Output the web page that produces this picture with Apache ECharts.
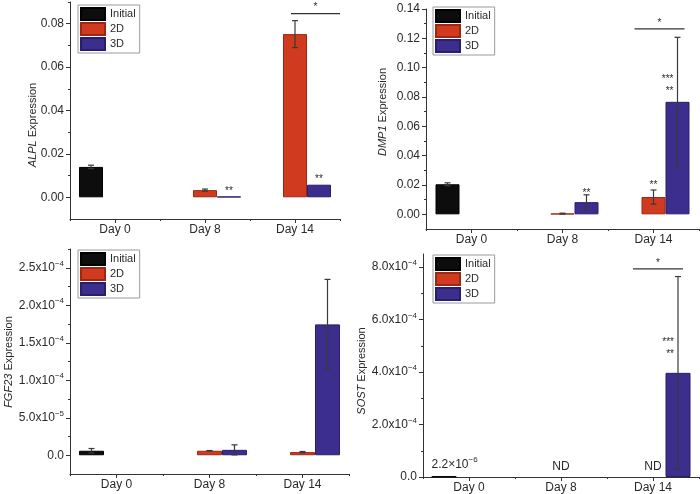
<!DOCTYPE html>
<html><head><meta charset="utf-8">
<script src="https://cdn.jsdelivr.net/npm/echarts@6/dist/echarts.min.js"></script>
<style>html,body{margin:0;padding:0;background:#fff}#c{width:700px;height:494px}</style>
</head><body><div id="c"></div>
<script>
// ---------------- data ----------------
const categories = ['Day 0', 'Day 8', 'Day 14'];
const groups = ['Initial', '2D', '3D'];

// ALPL
const alplInitial = [0.0140, null, null];
const alplInitialErr = [0.0008, null, null];
const alpl2D = [null, 0.0033, 0.0752];
const alpl2DErr = [null, 0.0005, 0.0062];
const alpl3D = [null, 0.0003, 0.0058];
const alpl3DErr = [null, null, null];
const alplTicks = [0, 0.02, 0.04, 0.06, 0.08];
const alplStars = [['Day 8', '3D', 0.0003, '**'], ['Day 14', '3D', 0.0058, '**']];
const alplSig = [['Day 14', 0.0846, '*']];

// DMP1
const dmp1Initial = [0.0205, null, null];
const dmp1InitialErr = [0.0010, null, null];
const dmp12D = [null, 0.0005, 0.0118];
const dmp12DErr = [null, 0.0003, 0.0048];
const dmp13D = [null, 0.0083, 0.0767];
const dmp13DErr = [null, 0.0050, 0.0440];
const dmp1Ticks = [0, 0.02, 0.04, 0.06, 0.08, 0.10, 0.12, 0.14];
const dmp1Stars = [['Day 8', '3D', 0.0111, '**'], ['Day 14', '2D', 0.0164, '**'],
                   ['Day 14', '3D', 0.0888, '***'], ['Day 14', '3D', 0.0806, '**']];
const dmp1Sig = [['Day 14', 0.1265, '*']];

// FGF23
const fgf23Initial = [6.0e-6, null, null];
const fgf23InitialErr = [3.0e-6, null, null];
const fgf232D = [null, 6.0e-6, 4.2e-6];
const fgf232DErr = [null, 0.3e-6, 0.8e-6];
const fgf233D = [null, 7.2e-6, 1.745e-4];
const fgf233DErr = [null, 6.7e-6, 6.0e-5];
const fgf23Ticks = [0, 5e-5, 1e-4, 1.5e-4, 2e-4, 2.5e-4];
const fgf23Stars = [];
const fgf23Sig = [];

// SOST
const sostInitial = [2.2e-6, null, null];
const sostInitialErr = [null, null, null];
const sost2D = [null, null, null];
const sost2DErr = [null, null, null];
const sost3D = [null, null, 3.97e-4];
const sost3DErr = [null, null, 3.67e-4];
const sostTicks = [0, 2e-4, 4e-4, 6e-4, 8e-4];
const sostStars = [['Day 14', '3D', 4.94e-4, '***'], ['Day 14', '3D', 4.48e-4, '**'],
                   ['Day 0', 'Initial', 0.18e-4, '2.2×10^−6'], ['Day 8', '2D', 0.18e-4, 'ND'],
                   ['Day 14', '2D', 0.18e-4, 'ND']];
const sostSig = [['Day 14', 7.93e-4, '*']];

// ---------------- layout / style ----------------
const FONT = "'Liberation Sans', Arial, Helvetica, sans-serif";
const TXT = '#2a2a2a';
const fills = { 'Initial': '#0d0d0d', '2D': '#d03a1f', '3D': '#3b2e8c' };
const borders = { 'Initial': '#000000', '2D': '#9c2812', '3D': '#281e6c' };
const slotOf = { 'Initial': -1, '2D': 0, '3D': 1 };

function fixedFmt(v) { return Math.abs(v) < 1e-12 ? '0.00' : v.toFixed(2); }
function sciFmt(v) {
  if (Math.abs(v) < 1e-15) return '{b|0.0}';
  const e = Math.floor(Math.log10(v) + 1e-9);
  const m = v / Math.pow(10, e);
  return '{b|' + m.toFixed(1) + 'x10}{s|−' + Math.abs(e) + '}';
}
const sciRich = {
  b: { fontSize: 12, color: TXT, fontFamily: FONT, lineHeight: 16 },
  s: { fontSize: 8, color: TXT, fontFamily: FONT, lineHeight: 8, verticalAlign: 'top' }
};

const panels = [
  { gene: 'ALPL', grid: { left: 70, top: 2, width: 270, height: 217 }, min: -0.01, max: 0.09,
    ticks: alplTicks, fmt: fixedFmt, rich: null, barW: 24, legend: { left: 78, top: 5 },
    nameAt: [33, 125],
    vals: [alplInitial, alpl2D, alpl3D], errs: [alplInitialErr, alpl2DErr, alpl3DErr],
    stars: alplStars, starAlign: ['center', 'center'], sig: alplSig, sigSpan: [-4, 45] },
  { gene: 'DMP1', grid: { left: 426, top: 9, width: 273, height: 220 }, min: -0.01, max: 0.14,
    ticks: dmp1Ticks, fmt: fixedFmt, rich: null, barW: 24, legend: { left: 433, top: 7 },
    nameAt: [383, 112],
    vals: [dmp1Initial, dmp12D, dmp13D], errs: [dmp1InitialErr, dmp12DErr, dmp13DErr],
    stars: dmp1Stars, starAlign: ['center', 'center', 'right', 'right'], sig: dmp1Sig, sigSpan: [-19, 31] },
  { gene: 'FGF23', grid: { left: 70, top: 249, width: 279, height: 225 }, min: -2.5e-5, max: 2.75e-4,
    ticks: fgf23Ticks, fmt: sciFmt, rich: sciRich, barW: 25, legend: { left: 78, top: 250 },
    nameAt: [9, 362],
    vals: [fgf23Initial, fgf232D, fgf233D], errs: [fgf23InitialErr, fgf232DErr, fgf233DErr],
    stars: fgf23Stars, starAlign: [], sig: fgf23Sig, sigSpan: [-20, 30] },
  { gene: 'SOST', grid: { left: 423, top: 254, width: 276, height: 223 }, min: 0, max: 8.5e-4,
    ticks: sostTicks, fmt: sciFmt, rich: sciRich, barW: 25, legend: { left: 433, top: 255 },
    nameAt: [362, 371],
    vals: [sostInitial, sost2D, sost3D], errs: [sostInitialErr, sost2DErr, sost3DErr],
    stars: sostStars, starAlign: ['right', 'right', 'left', 'center', 'center'], sig: sostSig, sigSpan: [-20, 30] }
];

function minorsOf(ticks, min, max) {
  const out = [];
  const step = ticks[1] - ticks[0];
  for (let i = 0; i < ticks.length; i++) {
    const m = ticks[i] + step / 2;
    if (m <= max + 1e-12) out.push(m);
  }
  return out;
}

function richText(t) {
  const k = t.indexOf('^');
  if (k < 0) return null;
  return '{b|' + t.slice(0, k) + '}{s|' + t.slice(k + 1) + '}';
}

const option = { animation: false, grid: [], xAxis: [], yAxis: [], legend: [], series: [], graphic: [] };

panels.forEach((p, k) => {
  option.grid.push(Object.assign({ containLabel: false, outerBoundsMode: 'none' }, p.grid));
  const axLine = { lineStyle: { color: '#333', width: 1 } };
  option.xAxis.push({
    type: 'category', gridIndex: k, data: categories, position: 'bottom',
    axisLine: { show: true, onZero: false, lineStyle: { color: '#333', width: 1 } },
    axisTick: { show: true, alignWithLabel: true, length: 4, lineStyle: { color: '#333' } },
    axisLabel: { color: TXT, fontSize: 12, fontFamily: FONT, margin: 5 },
    splitLine: { show: false }
  });
  option.xAxis.push({
    type: 'category', gridIndex: k, data: categories, position: 'bottom', offset: 0,
    axisLine: { show: false, onZero: false },
    axisTick: { show: true, length: 2, lineStyle: { color: '#333' } },
    axisLabel: { show: false }, splitLine: { show: false }
  });
  const lab = { customValues: p.ticks, margin: 6, color: TXT, fontSize: 12, fontFamily: FONT, formatter: p.fmt };
  if (p.rich) lab.rich = p.rich;
  option.yAxis.push({
    type: 'value', gridIndex: k, min: p.min, max: p.max, position: 'left',
    axisLine: Object.assign({ show: true, onZero: false }, axLine),
    axisTick: { show: true, length: 4, customValues: p.ticks, lineStyle: { color: '#333' } },
    axisLabel: lab, splitLine: { show: false }
  });
  option.yAxis.push({
    type: 'value', gridIndex: k, min: p.min, max: p.max, position: 'left', offset: 0,
    axisLine: { show: false, onZero: false },
    axisTick: { show: true, length: 2, customValues: minorsOf(p.ticks, p.min, p.max), lineStyle: { color: '#333' } },
    axisLabel: { show: false }, splitLine: { show: false }
  });
  const xi = 2 * k, yi = 2 * k;

  groups.forEach((g, gi) => {
    option.series.push({
      type: 'bar', name: g, xAxisIndex: xi, yAxisIndex: yi, data: p.vals[gi],
      barWidth: p.barW, barGap: '0%',
      itemStyle: { color: fills[g], borderColor: borders[g], borderWidth: 1 },
      emphasis: { disabled: true }, z: 2
    });
  });

  // error bars
  const errData = [];
  groups.forEach((g, gi) => {
    p.errs[gi].forEach((e, ci) => {
      if (e != null && p.vals[gi][ci] != null) errData.push([ci, p.vals[gi][ci], e, slotOf[g]]);
    });
  });
  option.series.push({
    type: 'custom', xAxisIndex: xi, yAxisIndex: yi, data: errData, silent: true, z: 3, clip: false,
    renderItem: (params, api) => {
      const c = api.value(0), v = api.value(1), e = api.value(2), s = api.value(3);
      const x = api.coord([c, v])[0] + s * p.barW;
      const yT = api.coord([c, v + e])[1], yB = api.coord([c, v - e])[1];
      const st = { stroke: '#3a3a3a', lineWidth: 1.2 };
      return { type: 'group', children: [
        { type: 'line', shape: { x1: x, y1: yT, x2: x, y2: yB }, style: st },
        { type: 'line', shape: { x1: x - 3, y1: yT, x2: x + 3, y2: yT }, style: st },
        { type: 'line', shape: { x1: x - 3, y1: yB, x2: x + 3, y2: yB }, style: st }
      ] };
    }
  });

  // annotations
  const anns = [];
  p.stars.forEach((s, i) => anns.push({ kind: 'txt', cat: categories.indexOf(s[0]), slot: slotOf[s[1]], v: s[2], text: s[3], align: p.starAlign[i] || 'center' }));
  p.sig.forEach(s => anns.push({ kind: 'sig', cat: categories.indexOf(s[0]), v: s[1], text: s[2] }));
  option.series.push({
    type: 'custom', xAxisIndex: xi, yAxisIndex: yi, data: anns.map(a => [a.cat, a.v]), silent: true, z: 4, clip: false,
    renderItem: (params, api) => {
      const a = anns[params.dataIndex];
      const pt = api.coord([api.value(0), api.value(1)]);
      if (a.kind === 'sig') {
        const x1 = pt[0] + p.sigSpan[0], x2 = pt[0] + p.sigSpan[1];
        return { type: 'group', children: [
          { type: 'line', shape: { x1: x1, y1: pt[1], x2: x2, y2: pt[1] }, style: { stroke: '#333', lineWidth: 1.3 } },
          { type: 'text', x: (x1 + x2) / 2, y: pt[1] - 1, style: { text: a.text, fill: TXT, font: '10px ' + FONT, align: 'center', verticalAlign: 'bottom' } }
        ] };
      }
      let x = pt[0] + a.slot * p.barW;
      if (a.align === 'right') x -= 4;
      if (a.align === 'left') x -= p.barW / 2;
      const isStar = /^\*+$/.test(a.text);
      const rt = richText(a.text);
      const style = { fill: TXT, align: a.align, verticalAlign: 'bottom',
        font: (isStar ? '10px ' : '12px ') + FONT };
      if (rt) {
        style.text = rt;
        style.rich = { b: { fontSize: 12, fontFamily: FONT, fill: TXT, lineHeight: 16 },
                       s: { fontSize: 8, fontFamily: FONT, fill: TXT, lineHeight: 8, verticalAlign: 'top' } };
      } else style.text = a.text;
      return { type: 'text', x: x, y: pt[1], style: style };
    }
  });

  option.legend.push({
    left: p.legend.left, top: p.legend.top, orient: 'vertical', data: groups, selectedMode: false,
    icon: 'rect', itemWidth: 24, itemHeight: 12, itemGap: 1,
    textStyle: { fontSize: 11, color: TXT, fontFamily: FONT },
    borderColor: '#9a9a9a', borderWidth: 1, padding: [2, 4, 2, 2], backgroundColor: '#fff'
  });

  option.graphic.push({
    type: 'text', x: p.nameAt[0], y: p.nameAt[1], rotation: Math.PI / 2, silent: true,
    style: { text: '{i|' + p.gene + '} Expression', fill: TXT, font: '11px ' + FONT,
      align: 'center', verticalAlign: 'middle',
      rich: { i: { fontStyle: 'italic', fontSize: 11, fontFamily: FONT, fill: TXT } } }
  });
});

const chart = echarts.init(document.getElementById('c'), null, { renderer: 'canvas' });
chart.setOption(option);
</script>
</body></html>
